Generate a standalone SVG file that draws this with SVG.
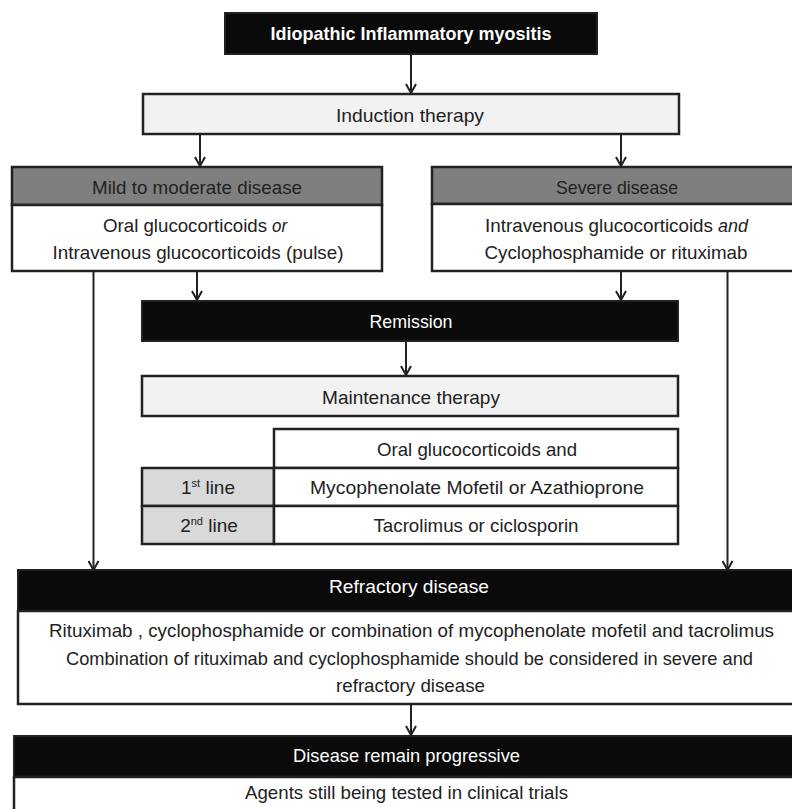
<svg xmlns="http://www.w3.org/2000/svg" width="792" height="809" viewBox="0 0 792 809">
<defs>
<style>
text{font-family:"Liberation Sans Narrow","Liberation Sans",Arial,sans-serif;font-size:19px;text-anchor:middle;fill:#222}
.s{text-anchor:start}
.w{fill:#fff}
.b{font-weight:bold}
.blk{fill:#0a0a0a;stroke:#222;stroke-width:2}
.lt{fill:#f2f2f2;stroke:#222;stroke-width:2.5}
.gh{fill:#7f7f7f;stroke:#222;stroke-width:2.5}
.wb{fill:#fff;stroke:#222;stroke-width:2.5}
.gc{fill:#d9d9d9;stroke:#222;stroke-width:2.5}
.c{fill:none;stroke:#222;stroke-width:2;marker-end:url(#ah)}
.i{font-style:italic}
</style>
<marker id="ah" markerWidth="12" markerHeight="12" refX="10" refY="6" orient="auto" markerUnits="userSpaceOnUse" viewBox="0 0 12 12">
<path d="M1,1 L10,6 L1,11" fill="none" stroke="#222" stroke-width="2"/>
</marker>
</defs>
<rect width="792" height="809" fill="#fff"/>

<g id="connectors">
<line class="c" x1="411" y1="54" x2="411" y2="93"/>
<line class="c" x1="200" y1="134" x2="200" y2="166"/>
<line class="c" x1="621" y1="134" x2="621" y2="166"/>
<line class="c" x1="197" y1="271" x2="197" y2="300"/>
<line class="c" x1="621" y1="271" x2="621" y2="300"/>
<line class="c" x1="406" y1="341" x2="406" y2="375"/>
<line class="c" x1="93.5" y1="271" x2="93.5" y2="570"/>
<line class="c" x1="727.5" y1="271" x2="727.5" y2="570"/>
<line class="c" x1="411" y1="704" x2="411" y2="735"/>
</g>

<g id="iim">
<rect class="blk" x="225" y="13" width="372" height="41"/>
<text class="w b" x="411" y="40" textLength="281" lengthAdjust="spacingAndGlyphs">Idiopathic Inflammatory myositis</text>
</g>

<g id="induction">
<rect class="lt" x="143" y="94" width="536" height="40"/>
<text x="410" y="122" textLength="148" lengthAdjust="spacingAndGlyphs">Induction therapy</text>
</g>

<g id="mild">
<rect class="gh" x="12" y="167" width="370" height="38"/>
<rect class="wb" x="12" y="205" width="370" height="66"/>
<text x="197" y="194" textLength="210" lengthAdjust="spacingAndGlyphs">Mild to moderate disease</text>
<text class="s" x="103" y="232" textLength="164" lengthAdjust="spacingAndGlyphs">Oral glucocorticoids</text>
<text class="s i" x="272" y="232" textLength="15" lengthAdjust="spacingAndGlyphs">or</text>
<text x="198" y="259" textLength="291" lengthAdjust="spacingAndGlyphs">Intravenous glucocorticoids (pulse)</text>
</g>

<g id="severe">
<rect class="gh" x="432" y="167" width="380" height="37"/>
<rect class="wb" x="432" y="204" width="380" height="67"/>
<text x="617" y="194" textLength="122" lengthAdjust="spacingAndGlyphs">Severe disease</text>
<text class="s" x="485" y="232" textLength="228" lengthAdjust="spacingAndGlyphs">Intravenous glucocorticoids</text>
<text class="s i" x="718" y="232" textLength="30" lengthAdjust="spacingAndGlyphs">and</text>
<text x="616" y="259" textLength="263" lengthAdjust="spacingAndGlyphs">Cyclophosphamide or rituximab</text>
</g>

<g id="remission">
<rect class="blk" x="142" y="301" width="536" height="40"/>
<text class="w" x="411" y="328" textLength="83" lengthAdjust="spacingAndGlyphs">Remission</text>
</g>

<g id="maintenance">
<rect class="lt" x="142" y="376" width="536" height="40"/>
<text x="411" y="404" textLength="178" lengthAdjust="spacingAndGlyphs">Maintenance therapy</text>
</g>

<g id="maintenance-table">
<rect class="wb" x="274" y="429" width="404" height="39"/>
<rect class="gc" x="142" y="468" width="132" height="38"/>
<rect class="wb" x="274" y="468" width="404" height="38"/>
<rect class="gc" x="142" y="506" width="132" height="38"/>
<rect class="wb" x="274" y="506" width="404" height="38"/>
<text x="477" y="456" textLength="200" lengthAdjust="spacingAndGlyphs">Oral glucocorticoids and</text>
<text x="208" y="494">1<tspan font-size="11" dy="-7">st</tspan><tspan dy="7"> line</tspan></text>
<text x="477" y="494" textLength="334" lengthAdjust="spacingAndGlyphs">Mycophenolate Mofetil or Azathioprone</text>
<text x="209" y="532">2<tspan font-size="11" dy="-7">nd</tspan><tspan dy="7"> line</tspan></text>
<text x="476" y="532" textLength="205" lengthAdjust="spacingAndGlyphs">Tacrolimus or ciclosporin</text>
</g>

<g id="refractory">
<rect class="blk" x="18" y="570" width="800" height="41"/>
<rect class="wb" x="18" y="611" width="800" height="93"/>
<text class="w" x="409" y="593" textLength="160" lengthAdjust="spacingAndGlyphs">Refractory disease</text>
<text x="411.5" y="637" textLength="725" lengthAdjust="spacingAndGlyphs">Rituximab , cyclophosphamide or combination of mycophenolate mofetil and tacrolimus</text>
<text x="409.5" y="665" textLength="687" lengthAdjust="spacingAndGlyphs">Combination of rituximab and cyclophosphamide should be considered in severe and</text>
<text x="410.5" y="692" textLength="149" lengthAdjust="spacingAndGlyphs">refractory disease</text>
</g>

<g id="progressive">
<rect class="blk" x="14" y="736" width="804" height="41"/>
<rect class="wb" x="14" y="777" width="804" height="50"/>
<text class="w" x="406.5" y="762" textLength="227" lengthAdjust="spacingAndGlyphs">Disease remain progressive</text>
<text x="406.5" y="799" textLength="323" lengthAdjust="spacingAndGlyphs">Agents still being tested in clinical trials</text>
</g>
</svg>
